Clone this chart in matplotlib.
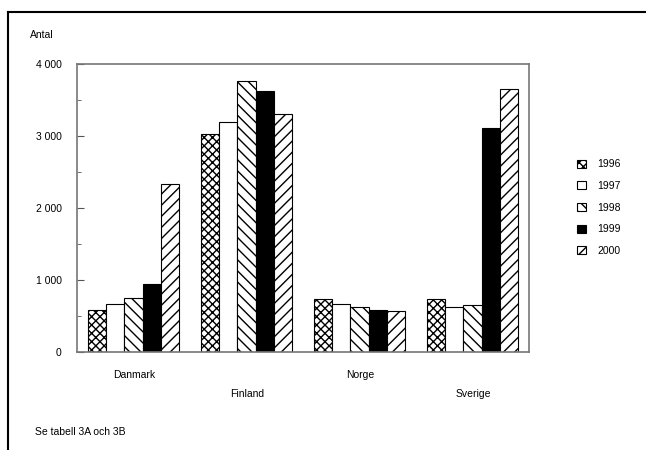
import matplotlib
matplotlib.use("Agg")
import matplotlib.pyplot as plt
import numpy as np
from matplotlib.ticker import FuncFormatter, MultipleLocator
from matplotlib.patches import Patch

plt.rcParams['font.family'] = ['Liberation Sans', 'DejaVu Sans']
plt.rcParams['hatch.linewidth'] = 1.0

countries = ["Danmark", "Finland", "Norge", "Sverige"]
years = ["1996", "1997", "1998", "1999", "2000"]
v1996 = [590, 3030, 735, 740]
v1997 = [660, 3200, 660, 620]
v1998 = [750, 3760, 620, 650]
v1999 = [950, 3620, 590, 3110]
v2000 = [2330, 3300, 575, 3650]
series = [v1996, v1997, v1998, v1999, v2000]

faces = ["white", "white", "white", "black", "white"]
hatches = ["xxxx", None, "\\\\\\", None, "///"]

W, H = 646, 450
fig = plt.figure(figsize=(W / 100, H / 100), dpi=100)
ax = fig.add_axes([77 / W, 1 - 352 / H, (529 - 77) / W, (352 - 64) / H])

x = np.arange(len(countries))
bw = 0.16
handles = []
for i, (vals, fc, h) in enumerate(zip(series, faces, hatches)):
    pos = x - 0.4 + bw * (i + 0.5)
    ax.bar(pos, vals, width=bw, color=fc, edgecolor="black", hatch=h, linewidth=0.8)
    handles.append(Patch(facecolor=fc, edgecolor="black", hatch=h, linewidth=0.8, label=years[i]))

ax.set_xlim(-0.5, len(countries) - 0.5)
ax.set_ylim(0, 4000)
ax.yaxis.set_major_locator(MultipleLocator(1000))
ax.yaxis.set_minor_locator(MultipleLocator(500))
ax.yaxis.set_major_formatter(FuncFormatter(lambda v, p: f"{int(v):,}".replace(",", " ")))
ax.tick_params(axis="y", which="major", direction="in", length=5, labelsize=7.5, pad=11, color="#555555")
ax.tick_params(axis="y", which="minor", direction="in", length=3, color="#555555")
ax.set_xticks([])
for s in ax.spines.values():
    s.set_color("#777777")
    s.set_linewidth(1.2)

for i, c in enumerate(countries):
    ypix = 375 if i % 2 == 0 else 394
    t = ax.text(i + 0.01, -(ypix - 352) / 72 * 1000, c, fontsize=7.5, ha="center", va="center")
    t.set_clip_on(False)

fig.text(30 / W, 1 - 35 / H, "Antal", fontsize=7.5, ha="left", va="center")
fig.text(35 / W, 1 - 432 / H, "Se tabell 3A och 3B", fontsize=7.5, ha="left", va="center")

leg = fig.legend(handles=handles, loc="upper left", bbox_to_anchor=(568 / W, 1 - 150 / H),
                 frameon=False, fontsize=7.5, handlelength=0.8, handleheight=0.8,
                 handletextpad=1.1, labelspacing=1.12)

# outer frame (top and left visible)
fig.add_artist(plt.Line2D([8 / W, 1], [1 - 12 / H, 1 - 12 / H], transform=fig.transFigure, color="black", lw=1.5))
fig.add_artist(plt.Line2D([8 / W, 8 / W], [0, 1 - 12 / H], transform=fig.transFigure, color="black", lw=1.5))

fig.savefig("out.png", dpi=100)
